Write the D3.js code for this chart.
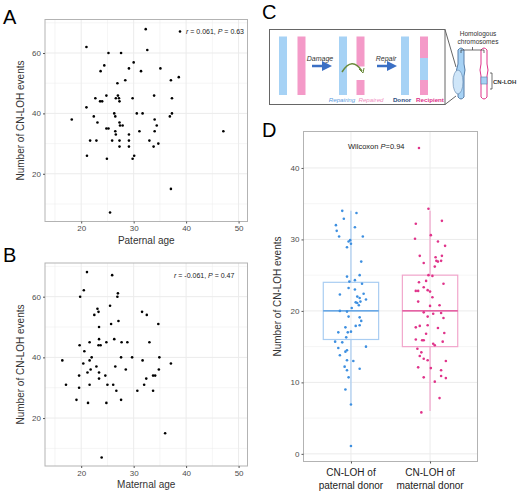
<!DOCTYPE html>
<html><head><meta charset="utf-8">
<script src="https://cdn.jsdelivr.net/npm/d3@7"></script>
<style>body{margin:0;background:#fff}text{font-family:"Liberation Sans",Arial,sans-serif}</style>
</head><body>
<script>
// panel A: paternal age vs CN-LOH count
const patAge = [32.3,21,25.2,27.6,32.6,30,24.4,23.7,29.1,31.4,35.1,28.4,37.1,38.6,26.9,22.7,24.8,23.6,24,26.6,27,27.2,27.3,29.8,33.9,37.3,21,22.4,23.1,26.3,26.5,30.6,31.7,34,34.4,36.9,37.3,18.2,27.3,27.4,27.9,24.8,25.2,26.5,26.6,29.1,31.1,34,47.1,21.7,22.9,25.9,27.3,29.1,33,34.7,27.3,29.1,33.8,21.1,24.9,29.8,30.1,37.1,25.5];
const patCnt = [67.9,62,60,60,61,56.9,55.9,54,54.9,54,54.9,51,51,52,50,45,45.9,44,44,45,45.9,45,44,45,45.9,45,42,39,37,40,39,40,40,38,36,39,40,38,37,36,36,35,35,34.1,33,33,34.1,34.1,34.1,31,31,31,31,31,31,30,29,29,29,26,25,25,26,15,7.2];
// panel B: maternal age vs CN-LOH count
const matAge = [21.1,25.9,20.5,19.8,27,26.9,25.5,23.1,23.3,22.5,31.6,32.5,25.7,27.1,34.7,23.4,19.7,21.6,23.4,23.3,23.7,24.8,26.3,27.7,28.8,33,20.6,16.4,21.6,22,20.4,27.6,29.7,31.7,34.9,37.1,22.9,26.5,21.8,28.5,34.8,21.2,23.4,19.6,24.6,33.7,34.1,23.4,32.4,17.1,21.6,25,26.1,32,19.6,26.7,30.7,33.7,19.1,27.6,21.3,24.8,36,23.9];
const matCnt = [68.1,67.1,62.1,60,61.1,60,57,56,55,54,55,54,51,52,51,50,44,45,46,44,44,45,46,45,45,45,42,39,39,40,38,40,40,39,40,38,37,37,36,36,36,35,35,34,34,34,34,33,33,31,31,31,31,31,30,29,29,29,26,26,25,25,15,7];
const ageTicks = [20,30,40,50];
const cntTicks = [20,40,60];
// panel D: donor-origin counts with horizontal jitter (category units)
const groups = ["CN-LOH of\npaternal donor","CN-LOH of\nmaternal donor"];
const boxStats = [
  {lo:7, q1:16, med:20, q3:24, hi:34},
  {lo:6, q1:15, med:20, q3:25, hi:34}
];
const padVal = [34.0,33.7,32.9,32.0,31.2,31.7,30.4,30.4,29.9,29.7,29.4,28.9,26.9,24.8,25.0,24.1,23.8,24.3,22.3,22.4,21.6,23.2,23.0,22.0,21.8,21.2,21.1,21.3,20.8,20.4,20.0,19.9,19.2,19.1,18.6,17.7,17.9,18.0,17.0,17.1,17.0,16.3,15.7,15.6,15.0,14.8,14.5,14.3,13.8,13.1,13.0,12.2,11.7,11.9,10.7,9.0,6.9,1.1];
const padJit = [-0.11,0.07,-0.09,-0.19,-0.18,0.05,-0.15,0.15,-0.01,-0.03,0,-0.05,0.13,-0.05,0.11,-0.02,0.14,0.05,-0.14,0.16,0.19,-0.03,0.05,0.08,0.11,0.06,0.08,0.12,0.1,0.01,-0.14,-0.05,-0.03,0.11,0.13,-0.07,0.06,0.11,-0.04,0,-0.16,-0.06,-0.2,-0.11,0.19,-0.16,-0.05,-0.07,-0.14,-0.05,0.03,-0.08,-0.05,0.11,-0.03,-0.07,0,0];
const madVal = [34.3,32.2,32.6,30.1,30.6,29.7,29.1,27.7,26.7,27.5,27.0,26.9,27.0,27.7,26.2,25.0,24.9,24.0,24.2,23.8,22.8,22.8,23.3,22.9,22.7,21.3,21.9,20.8,20.7,19.8,19.7,19.6,19.2,19.0,17.9,17.7,18.0,17.6,16.9,16.8,16.0,15.9,15.9,15.4,15.2,15.7,14.7,14.2,13.7,13.3,13.1,13.0,12.1,12.0,11.7,10.7,10.1,10.9,10.6,7.8,5.8,42.8];
const madJit = [-0.02,-0.18,0.15,-0.19,0.01,0.1,0.19,-0.13,-0.08,0.07,0.08,0.1,0.14,0.15,0.06,-0.02,0.03,-0.14,-0.05,0.17,-0.18,-0.15,-0.08,-0.03,0,-0.15,0.03,0.12,0,-0.08,0.14,0.04,-0.03,0.17,-0.13,-0.18,-0.03,0.1,0.18,-0.05,-0.18,-0.1,-0.08,0.04,0.06,0.16,-0.16,-0.11,-0.13,-0.08,-0.03,0.2,-0.15,0.01,0.14,-0.08,0.06,0.14,0.2,0.12,-0.11,-0.14];
const dTicks = [0,10,20,30,40];
const colBlue = "#3d8fe0", colPink = "#e0338a";

const svg = d3.select("body").append("svg").attr("width",520).attr("height",497);

function letter(t,x,y){ svg.append("text").attr("x",x).attr("y",y).attr("font-size",20).text(t); }

function styleAxis(a){
  a.select(".domain").remove();
  a.selectAll("line").attr("stroke","#555");
  a.selectAll("text").attr("font-size",8).attr("fill","#4d4d4d").attr("font-family","Liberation Sans,Arial");
}

function gridAxes(g, x, y, xt, yt, box){
  const gr = g.append("g").attr("stroke","#ebebeb");
  const xm = xt.slice(0,-1).map((d,i)=>(d+xt[i+1])/2).concat([xt[0]-5]);
  const ym = [10,30,50,70].filter(v=>y(v)>=box.t && y(v)<=box.b);
  xm.filter(v=>x(v)>=box.l).forEach(v=>gr.append("line").attr("x1",x(v)).attr("x2",x(v)).attr("y1",box.t).attr("y2",box.b).attr("stroke-width",0.5));
  ym.forEach(v=>gr.append("line").attr("y1",y(v)).attr("y2",y(v)).attr("x1",box.l).attr("x2",box.r).attr("stroke-width",0.5));
  xt.forEach(v=>gr.append("line").attr("x1",x(v)).attr("x2",x(v)).attr("y1",box.t).attr("y2",box.b));
  yt.forEach(v=>gr.append("line").attr("y1",y(v)).attr("y2",y(v)).attr("x1",box.l).attr("x2",box.r));
  g.append("rect").attr("x",box.l).attr("y",box.t).attr("width",box.r-box.l).attr("height",box.b-box.t).attr("fill","none").attr("stroke","#b3b3b3");
  g.append("g").attr("transform",`translate(0,${box.b})`).call(d3.axisBottom(x).tickValues(xt).tickSize(2).tickPadding(2)).call(styleAxis);
  g.append("g").attr("transform",`translate(${box.l},0)`).call(d3.axisLeft(y).tickValues(yt).tickSize(2).tickPadding(2)).call(styleAxis);
}

function scatter(ages, cnts, box, xlab, note, noteX, dot){
  const g = svg.append("g");
  const x = d3.scaleLinear([13.1,51.7],[box.l,box.r]);
  const y = d3.scaleLinear([4.2,71.1],[box.b,box.t]);
  gridAxes(g,x,y,ageTicks,cntTicks,box);
  g.selectAll("circle.p").data(ages).join("circle").attr("class","p")
    .attr("cx",d=>x(d)).attr("cy",(d,i)=>y(cnts[i])).attr("r",1.3).attr("fill","#000");
  if(dot) g.append("circle").attr("cx",noteX-6).attr("cy",box.t+12).attr("r",1.3);
  const t = g.append("text").attr("x",noteX).attr("y",box.t+14.5).attr("font-size",7).attr("fill","#222");
  t.append("tspan").attr("font-style","italic").text("r");
  t.append("tspan").text(note[0]);
  t.append("tspan").attr("font-style","italic").text("P");
  t.append("tspan").text(note[1]);
  g.append("text").attr("x",(box.l+box.r)/2).attr("y",box.b+22).attr("text-anchor","middle").attr("font-size",10).attr("fill","#333").text(xlab);
  g.append("text").attr("transform",`translate(${box.l-21},${(box.t+box.b)/2}) rotate(-90)`).attr("text-anchor","middle").attr("font-size",10).attr("fill","#333").text("Number of CN-LOH events");
}

letter("A",3,24);
scatter(patAge,patCnt,{l:45,r:247.5,t:19.5,b:221.5},"Paternal age",[" = 0.061, "," = 0.63"],186,true);
letter("B",3,262);
scatter(matAge,matCnt,{l:45,r:247.5,t:263,b:466},"Maternal age",[" = -0.061, "," = 0.47"],174,false);

// panel C diagram
letter("C",262,19);
const c = svg.append("g");
const lb="#a6d2f5", lp="#f49ac8";
c.append("rect").attr("x",269.5).attr("y",29.5).attr("width",175.5).attr("height",75).attr("fill","#fff").attr("stroke","#666");
c.append("line").attr("x1",445).attr("y1",29.5).attr("x2",456).attr("y2",67).attr("stroke","#666");
c.append("line").attr("x1",445).attr("y1",104.5).attr("x2",456).attr("y2",96).attr("stroke","#666");
const bars=[[279,36.5,58.5,lb],[297.5,36.5,58.5,lp],[339,36.5,58.5,lb],[356.5,36.5,30,lp],[356.5,80,15,lp],[401,36.5,58.5,lb],[420,36.5,21.5,lp],[420,58,22,lb],[420,80,15,lp]];
bars.forEach(b=>c.append("rect").attr("x",b[0]).attr("y",b[1]).attr("width",8).attr("height",b[2]).attr("fill",b[3]));
svg.append("defs").append("marker").attr("id","ar").attr("viewBox","0 0 10 10").attr("refX",5).attr("refY",5).attr("markerWidth",4).attr("markerHeight",4).attr("orient","auto").append("path").attr("d","M0,0L10,5L0,10z").attr("fill","#3a6fc4");
[[312,330,"Damage",320],[377,395,"Repair",386]].forEach(a=>{
  c.append("line").attr("x1",a[0]).attr("x2",a[1]-3).attr("y1",66).attr("y2",66).attr("stroke","#3a6fc4").attr("stroke-width",2.5).attr("marker-end","url(#ar)");
  c.append("text").attr("x",a[3]).attr("y",61).attr("text-anchor","middle").attr("font-size",7).attr("font-style","italic").attr("fill","#333").text(a[2]);
});
c.append("path").attr("d","M342,72 Q352,56 362,71").attr("fill","none").attr("stroke","#6a8a3a").attr("stroke-width",1.5);
c.append("path").attr("d","M359,69 L363,73 L364,68").attr("fill","none").attr("stroke","#6a8a3a").attr("stroke-width",1);
[["Repairing",342,"#5b9be0","italic","normal"],["Repaired",371,"#f08cc0","italic","normal"],["Donor",402,"#2b4c80","normal","bold"],["Recipient",430,"#e0338a","normal","bold"]]
  .forEach(l=>c.append("text").attr("x",l[1]).attr("y",102).attr("text-anchor","middle").attr("font-size",6.2).attr("fill",l[2]).attr("font-style",l[3]).attr("font-weight",l[4]).text(l[0]));
// chromosomes
c.append("path").attr("d","M458,50 Q461,46 464,50 L464,64 Q466,70 464,76 L464,97 Q461,101 458,97 L458,76 Q455,70 458,64 Z").attr("fill","#a6d2f5").attr("stroke","#5a7fa8");
c.append("ellipse").attr("cx",458).attr("cy",82).attr("rx",5).attr("ry",12).attr("fill","#cfe6f9").attr("stroke","#5a7fa8").attr("stroke-width",0.6);
c.append("path").attr("d","M481,50 Q484,46 487,50 L487,64 Q489,70 487,76 L487,97 Q484,101 481,97 L481,76 Q479,70 481,64 Z").attr("fill","#fff").attr("stroke","#e0338a");
c.append("rect").attr("x",481).attr("y",77).attr("width",6).attr("height",7).attr("fill","#a6d2f5").attr("stroke","#5a7fa8").attr("stroke-width",0.6);
c.append("path").attr("d","M461,53 L461,50 L484,50 L484,53 M472.5,50 L472.5,47").attr("fill","none").attr("stroke","#333").attr("stroke-width",0.7);
c.append("path").attr("d","M490,73 L492,73 L492,89 L490,89").attr("fill","none").attr("stroke","#333").attr("stroke-width",0.7);
c.append("text").attr("x",478).attr("y",36).attr("text-anchor","middle").attr("font-size",6.5).attr("fill","#333").text("Homologous");
c.append("text").attr("x",478).attr("y",44).attr("text-anchor","middle").attr("font-size",6.5).attr("fill","#333").text("chromosomes");
c.append("text").attr("x",493).attr("y",83.5).attr("font-size",6).attr("font-weight","bold").attr("fill","#333").text("CN-LOH");

// panel D boxplot
letter("D",262,137);
const dbox={l:303.5,r:477.5,t:131.5,b:461.5};
const gd=svg.append("g");
const xd=d3.scaleLinear([0.4,2.6],[dbox.l,dbox.r]);
const yd=d3.scaleLinear([-1.07,45.1],[dbox.b,dbox.t]);
const gr=gd.append("g").attr("stroke","#ebebeb");
[5,15,25,35].forEach(v=>gr.append("line").attr("y1",yd(v)).attr("y2",yd(v)).attr("x1",dbox.l).attr("x2",dbox.r).attr("stroke-width",0.5));
dTicks.forEach(v=>gr.append("line").attr("y1",yd(v)).attr("y2",yd(v)).attr("x1",dbox.l).attr("x2",dbox.r));
[1,2].forEach(v=>gr.append("line").attr("x1",xd(v)).attr("x2",xd(v)).attr("y1",dbox.t).attr("y2",dbox.b));
gd.append("rect").attr("x",dbox.l).attr("y",dbox.t).attr("width",dbox.r-dbox.l).attr("height",dbox.b-dbox.t).attr("fill","none").attr("stroke","#b3b3b3");
gd.append("g").attr("transform",`translate(${dbox.l},0)`).call(d3.axisLeft(yd).tickValues(dTicks).tickSize(2).tickPadding(2)).call(styleAxis);
const xa=gd.append("g").attr("transform",`translate(0,${dbox.b})`).call(d3.axisBottom(xd).tickValues([1,2]).tickSize(2).tickFormat(""));
xa.select(".domain").remove(); xa.selectAll("line").attr("stroke","#555");
groups.forEach((gname,i)=>{
  gname.split("\n").forEach((s,k)=>gd.append("text").attr("x",xd(i+1)).attr("y",dbox.b+14+k*13).attr("text-anchor","middle").attr("font-size",10).attr("fill","#222").text(s));
});
const cols=[colBlue,colPink], lite=["#a9cdf2","#f2a6cc"];
boxStats.forEach((s,i)=>{
  const cx=xd(i+1), w=xd(1.35)-xd(1);
  gd.append("line").attr("x1",cx).attr("x2",cx).attr("y1",yd(s.hi)).attr("y2",yd(s.q3)).attr("stroke",lite[i]).attr("stroke-width",1.2);
  gd.append("line").attr("x1",cx).attr("x2",cx).attr("y1",yd(s.q1)).attr("y2",yd(s.lo)).attr("stroke",lite[i]).attr("stroke-width",1.2);
  gd.append("rect").attr("x",cx-w).attr("width",2*w).attr("y",yd(s.q3)).attr("height",yd(s.q1)-yd(s.q3)).attr("fill","none").attr("stroke",lite[i]).attr("stroke-width",1.2);
  gd.append("line").attr("x1",cx-w).attr("x2",cx+w).attr("y1",yd(s.med)).attr("y2",yd(s.med)).attr("stroke",cols[i]).attr("stroke-width",1.2);
});
[[padVal,padJit,1],[madVal,madJit,2]].forEach(([v,j,k],i)=>{
  gd.selectAll(null).data(v).join("circle").attr("cx",(d,n)=>xd(k+j[n])).attr("cy",d=>yd(d)).attr("r",1.3).attr("fill",cols[i]);
});
const wt=gd.append("text").attr("x",348).attr("y",149).attr("font-size",7.5).attr("fill","#222");
wt.append("tspan").text("Wilcoxon ");
wt.append("tspan").attr("font-style","italic").text("P");
wt.append("tspan").text("=0.94");
gd.append("text").attr("transform",`translate(281,${(dbox.t+dbox.b)/2}) rotate(-90)`).attr("text-anchor","middle").attr("font-size",10).attr("fill","#333").text("Number of CN-LOH events");
</script>
</body></html>
